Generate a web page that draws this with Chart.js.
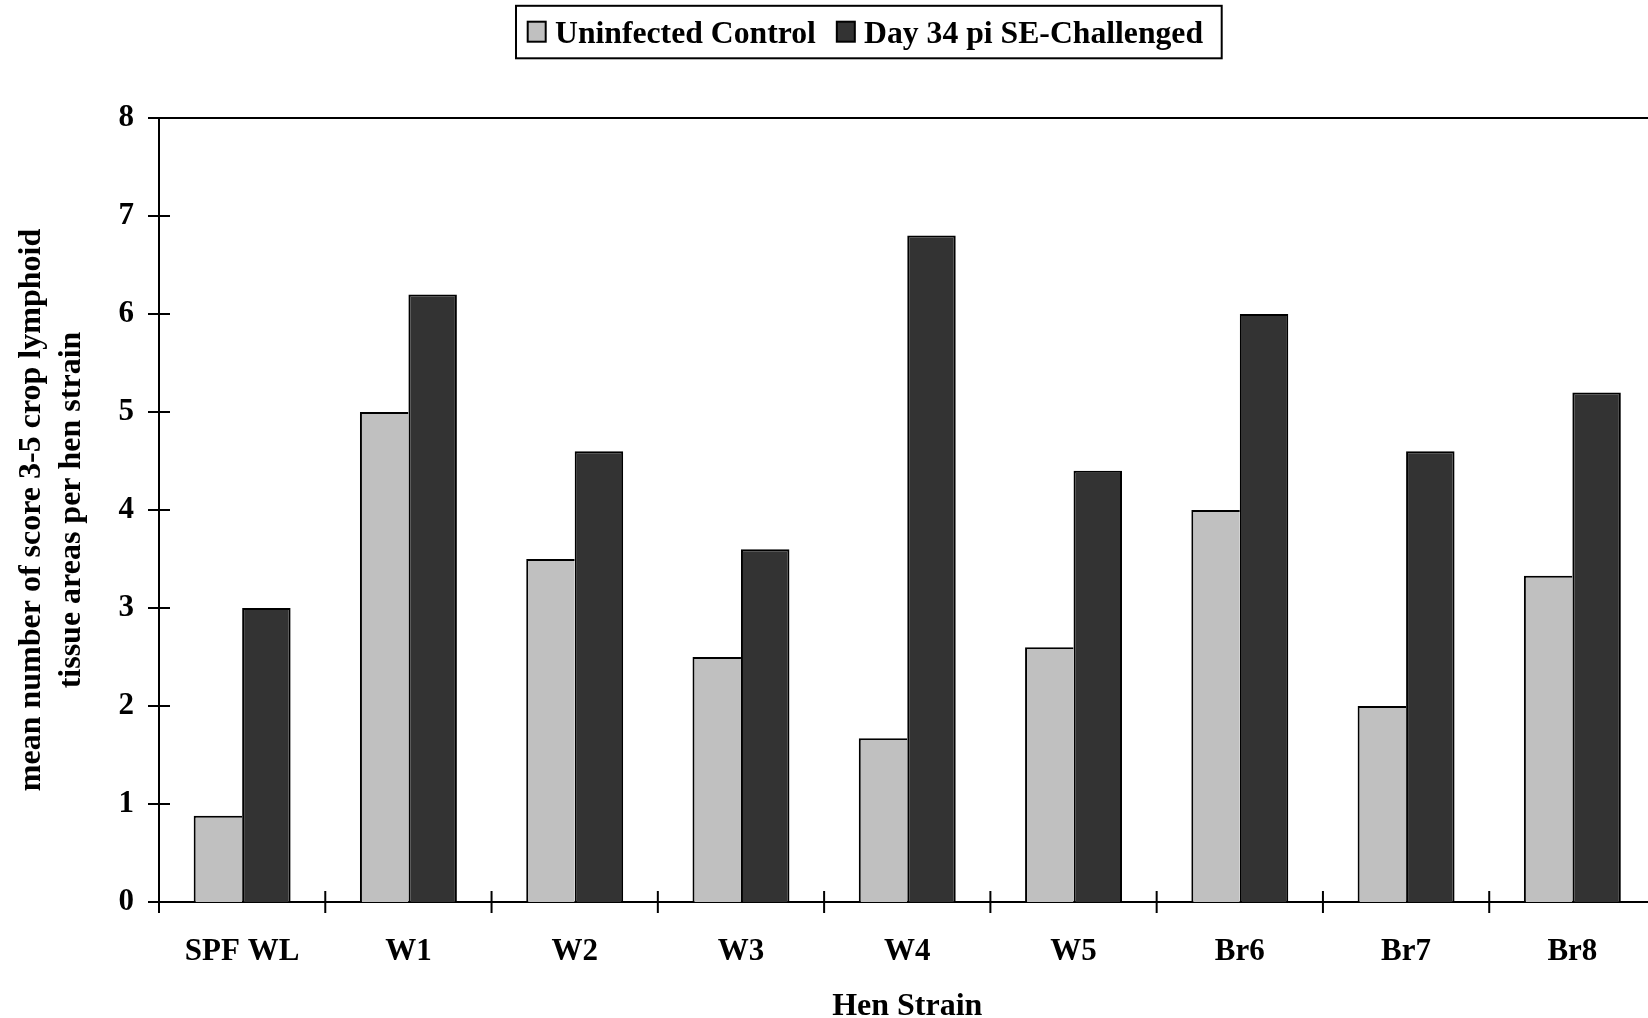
<!DOCTYPE html>
<html>
<head>
<meta charset="utf-8">
<script src="https://cdn.jsdelivr.net/npm/chart.js@4/dist/chart.umd.min.js"></script>
<style>
  html, body { margin: 0; padding: 0; background: #fff; overflow: hidden; }
  #wrap { width: 1660px; height: 1018px; }
</style>
</head>
<body>
<div id="wrap"><canvas id="c" width="1660" height="1018"></canvas></div>
<script>
const categories = ['SPF WL', 'W1', 'W2', 'W3', 'W4', 'W5', 'Br6', 'Br7', 'Br8'];
const uninfectedControl = [0.88, 5.0, 3.5, 2.5, 1.67, 2.6, 4.0, 2.0, 3.33];
const day34Challenged = [3.0, 6.2, 4.6, 3.6, 6.8, 4.4, 6.0, 4.6, 5.2];
const seriesNames = ['Uninfected Control', 'Day 34 pi SE-Challenged'];
const yTicks = [0, 1, 2, 3, 4, 5, 6, 7, 8];
const xTitle = 'Hen Strain';
const yTitle = ['mean number of score 3-5 crop lymphoid', 'tissue areas per hen strain'];

const FONT = "'Liberation Serif', 'Times New Roman', serif";

const decorPlugin = {
  id: 'decor',
  afterDraw(chart) {
    const ctx = chart.ctx;
    const xs = chart.scales.x, ys = chart.scales.y;
    const area = chart.chartArea;
    ctx.save();
    ctx.strokeStyle = '#000';
    ctx.lineWidth = 2;
    // top border line at max value
    const yTop = ys.getPixelForValue(yTicks[yTicks.length - 1]);
    ctx.beginPath();
    ctx.moveTo(area.left, yTop);
    ctx.lineTo(area.right + 10, yTop);
    ctx.stroke();
    // y tick marks crossing the axis
    yTicks.forEach(v => {
      const y = ys.getPixelForValue(v);
      ctx.beginPath();
      ctx.moveTo(area.left - 11, y);
      ctx.lineTo(area.left + 11, y);
      ctx.stroke();
    });
    // x tick marks at category boundaries, crossing the axis
    for (let i = 0; i <= categories.length; i++) {
      const x = xs.getPixelForValue(i - 0.5);
      ctx.beginPath();
      ctx.moveTo(x, area.bottom - 11);
      ctx.lineTo(x, area.bottom + 11);
      ctx.stroke();
    }
    // legend
    const ds = chart.data.datasets;
    ctx.font = 'bold 31.7px ' + FONT;
    ctx.textBaseline = 'alphabetic';
    ctx.textAlign = 'left';
    ctx.lineWidth = 2;
    ctx.strokeRect(516, 5.8, 1221.7 - 516, 58.3 - 5.8);
    let x = 527.7;
    ds.forEach((d, i) => {
      ctx.fillStyle = d.backgroundColor;
      ctx.fillRect(x, 21.7, 18, 20);
      ctx.strokeStyle = '#000';
      ctx.lineWidth = 2;
      ctx.strokeRect(x, 21.7, 18, 20);
      ctx.fillStyle = '#000';
      ctx.fillText(d.label, x + 27.3, 42.6);
      x += 27.3 + ctx.measureText(d.label).width + 21;
    });
    ctx.restore();
  }
};

new Chart(document.getElementById('c'), {
  type: 'bar',
  data: {
    labels: categories,
    datasets: [
      {
        label: seriesNames[0],
        data: uninfectedControl,
        backgroundColor: '#c0c0c0',
        borderColor: '#000',
        borderWidth: { top: 2, left: 2, right: 0, bottom: 0 },
        borderSkipped: 'start'
      },
      {
        label: seriesNames[1],
        data: day34Challenged,
        backgroundColor: '#333333',
        borderColor: '#000',
        borderWidth: { top: 2, left: 2, right: 2, bottom: 0 },
        borderSkipped: 'start'
      }
    ]
  },
  options: {
    responsive: false,
    animation: false,
    devicePixelRatio: 1,
    layout: { padding: { top: 118, left: 0, right: 4.5, bottom: 0 } },
    datasets: { bar: { barPercentage: 1.0, categoryPercentage: 0.583 } },
    plugins: { legend: { display: false }, tooltip: { enabled: false }, title: { display: false } },
    scales: {
      x: {
        offset: true,
        grid: { display: false, drawTicks: false },
        border: { display: true, color: '#000', width: 2 },
        ticks: {
          color: '#000',
          font: { family: FONT, size: 31, weight: 'bold' },
          padding: 31,
          maxRotation: 0,
          autoSkip: false
        },
        title: {
          display: true,
          text: xTitle,
          color: '#000',
          font: { family: FONT, size: 32, weight: 'bold', lineHeight: 0.7 },
          padding: { top: 0, bottom: 0 }
        },
        afterFit(scale) { scale.height = 116; }
      },
      y: {
        min: 0,
        max: 8,
        grid: { display: false, drawTicks: false },
        border: { display: true, color: '#000', width: 2 },
        afterBuildTicks(scale) { scale.ticks = yTicks.map(v => ({ value: v })); },
        ticks: {
          color: '#000',
          font: { family: FONT, size: 31, weight: 'bold' },
          padding: 25
        },
        title: {
          display: true,
          text: yTitle,
          color: '#000',
          font: { family: FONT, size: 32, weight: 'bold', lineHeight: 1.25 },
          padding: { top: 11.5, bottom: 0 }
        },
        afterFit(scale) { scale.width = 159; }
      }
    }
  },
  plugins: [decorPlugin]
});
</script>
</body>
</html>
